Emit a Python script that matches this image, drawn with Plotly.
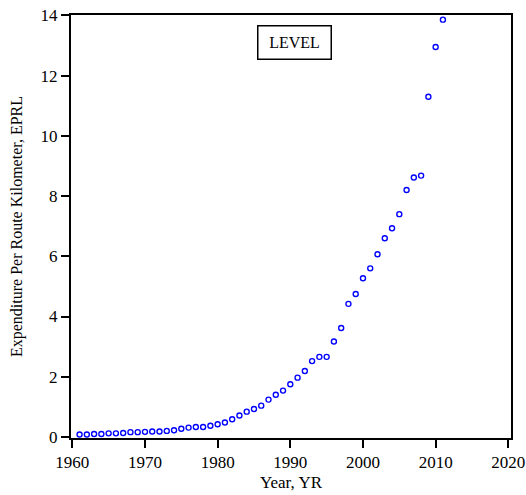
import plotly.graph_objects as go

years = list(range(1961, 2012))
eprl = [0.08, 0.08, 0.10, 0.10, 0.12, 0.12, 0.13, 0.16, 0.16, 0.17,
        0.18, 0.18, 0.20, 0.22, 0.27, 0.31, 0.33, 0.33, 0.37, 0.42,
        0.48, 0.59, 0.71, 0.84, 0.93, 1.04, 1.24, 1.40, 1.54, 1.75,
        1.97, 2.19, 2.52, 2.66, 2.66, 3.17, 3.62, 4.42, 4.75, 5.27,
        5.60, 6.07, 6.60, 6.93, 7.40, 8.20, 8.62, 8.68, 11.30, 12.95,
        13.86]

x_ticks = [1960, 1970, 1980, 1990, 2000, 2010, 2020]
y_ticks = [0, 2, 4, 6, 8, 10, 12, 14]
legend_label = "LEVEL"

FONT = "Liberation Serif, Times New Roman, serif"

fig = go.Figure()
fig.add_trace(go.Scatter(
    x=years, y=eprl, mode="markers",
    marker=dict(symbol="circle-open", size=5, color="#0000ff",
                line=dict(width=1.4, color="#0000ff")),
    showlegend=False,
))

fig.add_annotation(
    text=legend_label, xref="paper", yref="paper",
    x=0.509, y=0.936, xanchor="center", yanchor="middle",
    showarrow=False, font=dict(family=FONT, size=16, color="black"),
    bordercolor="black", borderwidth=1.5, borderpad=1,
    width=70, height=30, bgcolor="white",
)

axis_common = dict(
    showgrid=False, zeroline=False, showline=True, linecolor="black",
    linewidth=2, mirror=True, ticks="outside", ticklen=8, tickwidth=1.5,
    tickcolor="black", tickfont=dict(family=FONT, size=17, color="black"),
    automargin=False,
)

fig.update_xaxes(range=[1959.82, 2020.37], tickvals=x_ticks,
                 title=dict(text="Year, YR", font=dict(family=FONT, size=17, color="black"), standoff=5),
                 **axis_common)
fig.update_yaxes(range=[-0.035, 14.015], tickvals=y_ticks,
                 title=dict(text="Expenditure Per Route Kilometer, EPRL",
                            font=dict(family=FONT, size=16, color="black"), standoff=14),
                 **axis_common)

fig.update_layout(
    width=526, height=495,
    margin=dict(l=71, r=15, t=15, b=57, autoexpand=False),
    paper_bgcolor="white", plot_bgcolor="white",
    font=dict(family=FONT, color="black"),
)

fig.write_html("out.html", config={"displayModeBar": False},
               post_script="document.body.style.margin='0';document.body.style.overflow='hidden';")
